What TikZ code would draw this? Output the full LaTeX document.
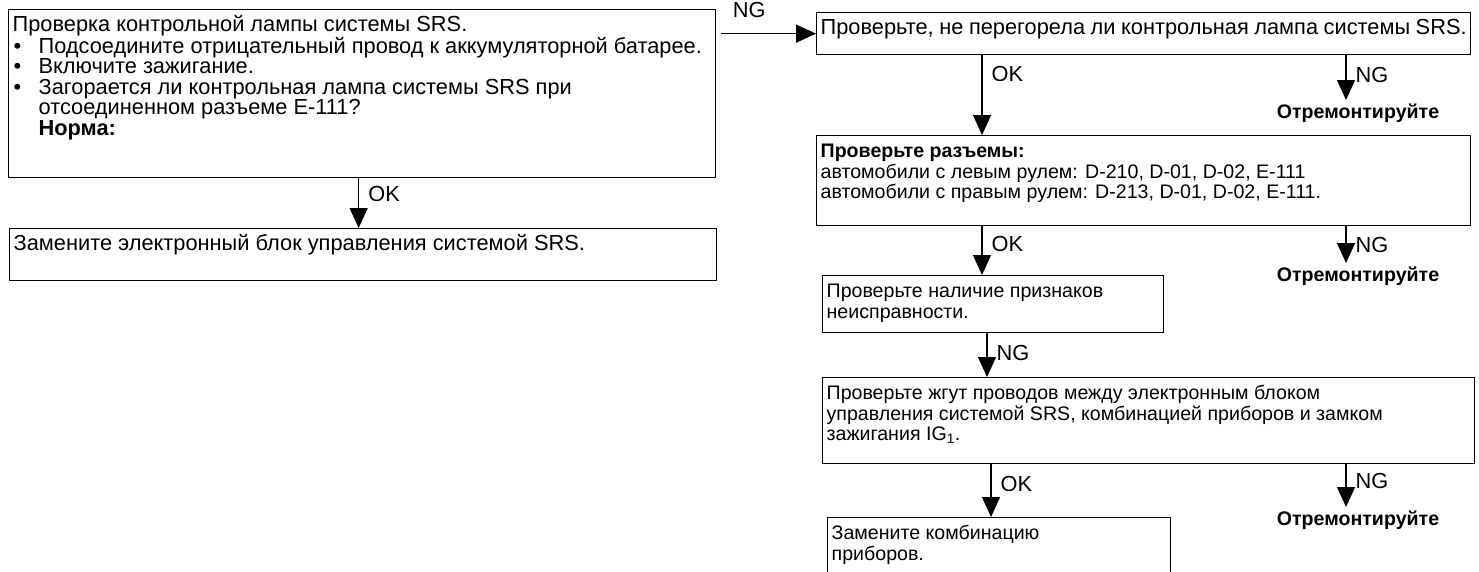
\documentclass[tikz,border=0pt]{standalone}
\usepackage{fontspec}
\setmainfont{Liberation Sans}
\usetikzlibrary{arrows.meta, positioning, calc}

\newcommand{\bul}{\makebox[26pt][l]{\hspace{1pt}\textbullet}}
\newcommand{\ind}{\hspace*{26pt}}
\newcommand{\boxtxt}[3]{\parbox[c][#2][t]{#1}{\raggedright\rule{0pt}{22pt}#3}}

\begin{document}
\begin{tikzpicture}[>={Triangle[length=20pt, width=18pt]}, x=1pt, y=-1pt, line width=1.3pt,
    font=\fontsize{21.8}{20.5}\selectfont,
    box/.style={draw, anchor=north west, inner xsep=4pt, inner ysep=0pt},
    small/.style={font=\fontsize{19.6}{20.5}\selectfont},
    lbl/.style={anchor=west, inner sep=0pt, xshift=9pt},
    fix/.style={font=\fontsize{19.6}{20.5}\selectfont\bfseries, anchor=north, inner sep=3pt}]
    \useasboundingbox (0,0) rectangle (1479,571);
    % left column
    \node[box] (lamp) at (8,9) {\boxtxt{699pt}{168pt}{Проверка контрольной лампы системы SRS.\\
        \bul Подсоедините отрицательный провод к аккумуляторной батарее.\\
        \bul Включите зажигание.\\
        \bul Загорается ли контрольная лампа системы SRS при\\
        \ind отсоединенном разъеме E-111?\\
        \ind\textbf{Норма:}}};
    \node[box] (ecu) at (9,228) {\boxtxt{699pt}{52pt}{Замените электронный блок управления системой SRS.}};
    % right column
    \node[box] (bulb) at (816,12) {\boxtxt{646pt}{42pt}{Проверьте, не перегорела ли контрольная лампа системы SRS.}};
    \node[box, small] (conn) at (816,135) {\boxtxt{646pt}{90pt}{\textbf{Проверьте разъемы:}\\
        автомобили с левым рулем: D-210, D-01, D-02, E-111\\
        автомобили с правым рулем: D-213, D-01, D-02, E-111.}};
    \node[box, small] (symp) at (822,275) {\boxtxt{333pt}{57pt}{Проверьте наличие признаков\\
        неисправности.}};
    \node[box, small] (wire) at (822,377) {\boxtxt{644pt}{86pt}{Проверьте жгут проводов между электронным блоком\\
        управления системой SRS, комбинацией приборов и замком\\
        зажигания IG\textsubscript{1}.}};
    \node[box, small] (meter) at (827,517) {\boxtxt{335pt}{70pt}{Замените комбинацию\\
        приборов.}};
    \node[fix] (fixA) at (1358,100) {Отремонтируйте};
    \node[fix] (fixB) at (1358,263) {Отремонтируйте};
    \node[fix] (fixC) at (1358,507) {Отремонтируйте};

    % connectors
    \coordinate (okA) at ([xshift=-3.5pt]lamp.south);
    \draw[->] (okA) -- (okA |- ecu.north) node[lbl, pos=0.31] {OK};
    \draw[->, shorten <=5pt] (lamp.east |- bulb.west) -- (bulb.west)
        node[above=15pt, inner sep=0pt, pos=0.33] {NG};
    \draw[->] ([xshift=166pt]bulb.south west) -- ([xshift=166pt]conn.north west) node[lbl, pos=0.23] {OK};
    \draw[->] ([xshift=530pt]bulb.south west) -- ([xshift=-12pt]fixA.north) node[lbl, pos=0.45] {NG};
    \draw[->] ([xshift=166pt]conn.south west) -- ([xshift=160pt]symp.north west) node[lbl, pos=0.36] {OK};
    \draw[->] ([xshift=530pt]conn.south west) -- ([xshift=-12pt]fixB.north) node[lbl, pos=0.5] {NG};
    \draw[->] ([xshift=165pt]symp.south west) -- ([xshift=165pt]wire.north west) node[lbl, pos=0.45] {NG};
    \draw[->] ([xshift=169pt]wire.south west) -- ([xshift=164pt]meter.north west) node[lbl, pos=0.37] {OK};
    \draw[->] ([xshift=524pt]wire.south west) -- ([xshift=-12pt]fixC.north) node[lbl, pos=0.4] {NG};
\end{tikzpicture}
\end{document}
